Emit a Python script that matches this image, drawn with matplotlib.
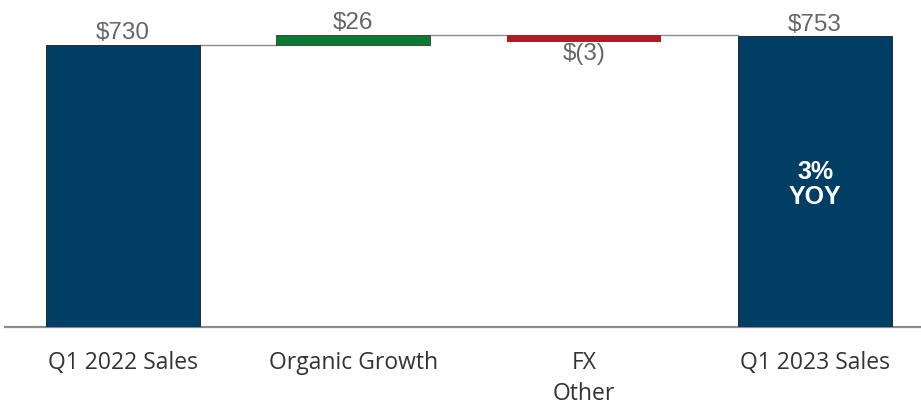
import matplotlib
matplotlib.use("Agg")
import matplotlib.pyplot as plt

categories = ["Q1 2022 Sales", "Organic Growth", "FX\nOther", "Q1 2023 Sales"]
start_total = 730
changes = [26, -3]
end_total = 753
value_labels = ["$730", "$26", "$(3)", "$753"]
yoy_label = "3%\nYOY"

NAVY = "#003f63"
GREEN = "#0a7a32"
RED = "#b01c24"
GRAY_TXT = "#666666"
LINE = "#8c8c8c"
MIN_H = 17  # smallest drawn height so tiny moves stay visible

fig = plt.figure(figsize=(9.21, 4.07), dpi=100)
ax = fig.add_axes([0.005, 80 / 407, 0.995, 327 / 407])
ax.set_xlim(-0.511, 3.459)
ax.set_ylim(0, 847)

w = 0.667
x = list(range(len(categories)))

# totals
ax.bar(x[0], start_total, width=w, color=NAVY, edgecolor="#1a1a1a", lw=0.6, zorder=3)
ax.bar(x[3], end_total, width=w, color=NAVY, edgecolor="#1a1a1a", lw=0.6, zorder=3)

# deltas
running = start_total
levels = [start_total]
for i, d in enumerate(changes):
    xi = x[i + 1]
    if d >= 0:
        ax.bar(xi, d, bottom=running, width=w, color=GREEN, edgecolor="#333333", lw=0.6, zorder=3)
        top = running + d
    else:
        ax.bar(xi, -max(-d, MIN_H), bottom=running, width=w, color=RED, lw=0, zorder=3)
        top = running
    running += d
    levels.append(running if d >= 0 else top)

# connectors
for i in range(3):
    ax.plot([x[i] + w / 2, x[i + 1] - w / 2], [levels[i]] * 2, color=LINE, lw=1.0, zorder=2)

# value labels
lab_font = dict(fontsize=17.5, color=GRAY_TXT, family="Liberation Sans", ha="center")
ax.text(x[0], start_total + 2, value_labels[0], va="bottom", **lab_font)
ax.text(x[1], start_total + changes[0] + 2, value_labels[1], va="bottom", **lab_font)
ax.text(x[2], start_total + changes[0] - MIN_H - 4, value_labels[2], va="top", **lab_font)
ax.text(x[3], end_total + 2, value_labels[3], va="bottom", **lab_font)

ax.text(x[3], 368, yoy_label, ha="center", va="center", color="white", fontsize=18,
        fontweight="bold", family="Liberation Sans", linespacing=1.05)

# axis
for s in ["top", "right", "left"]:
    ax.spines[s].set_visible(False)
ax.spines["bottom"].set_color("#8c8c8c")
ax.spines["bottom"].set_linewidth(1.6)
ax.set_yticks([])
ax.set_xticks(x)
ax.set_xticklabels(categories, fontsize=16.5, color="#333333", family="Open Sans", linespacing=1.42)
ax.tick_params(axis="x", length=0, pad=17)

fig.savefig("out.png", dpi=100)
